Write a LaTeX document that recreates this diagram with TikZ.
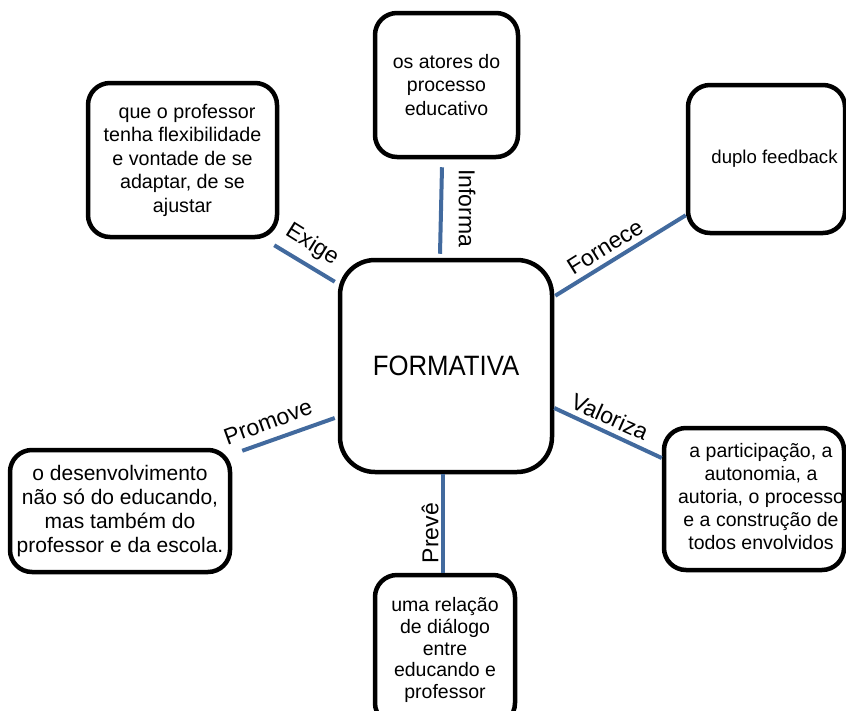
\documentclass[tikz,border=0pt]{standalone}
\usepackage{fontspec}
\setmainfont{Liberation Sans}
\newfontfamily\narrowsans[FakeStretch=0.92]{Liberation Sans}
\usetikzlibrary{calc}
\definecolor{linkblue}{RGB}{66,106,158}

\begin{document}
\begin{tikzpicture}[x=1pt,y=-1pt,
  box/.style={draw=black, line width=4.5pt, rounded corners=22pt, fill=white,
              align=center, inner sep=0pt},
  link/.style={draw=linkblue, line width=4pt},
  rel/.style={font=\fontsize{23}{26}\selectfont, inner sep=0pt},
  txt/.style={font=\fontsize{19.5}{23.5}\selectfont}]

\useasboundingbox (0,0) rectangle (846,710);
\clip (0,0) rectangle (846,710);

% central concept
\node[box, rounded corners=35pt, minimum width=212pt, minimum height=212pt,
      font=\narrowsans\fontsize{28}{32}\selectfont] (c) at (446,366) {FORMATIVA};

% surrounding concepts
\node[box, txt, minimum width=143pt, minimum height=144pt] (t) at (446.5,85)
  {os atores do\\processo\\educativo};
\node[box, txt, minimum width=189pt, minimum height=154pt,
      font=\fontsize{19.7}{23.5}\selectfont] (tl) at (182.5,160)
  {\hspace*{9pt}que o professor\\tenha flexibilidade\\e vontade de se\\adaptar, de se\\ajustar};
\node[box, txt, minimum width=157pt, minimum height=148pt,
      font=\fontsize{18.6}{22}\selectfont] (tr) at (766.5,159)
  {\hspace*{16pt}duplo feedback};
\node[box, txt, minimum width=180pt, minimum height=142pt,
      font=\fontsize{19.5}{22.8}\selectfont] (r) at (754,499)
  {\hspace*{14pt}\begin{tabular}{@{}c@{}}a participação, a\\autonomia, a\\autoria, o processo\\e a construção de\\todos envolvidos\end{tabular}};
\node[box, txt, minimum width=220pt, minimum height=122pt,
      font=\fontsize{21}{24}\selectfont] (bl) at (120,511)
  {o desenvolvimento\\não só do educando,\\mas também do\\professor e da escola.};
\node[box, txt, minimum width=140pt, minimum height=150pt,
      font=\fontsize{19.5}{21.6}\selectfont] (b) at (445,650)
  {uma relação\\de diálogo\\entre\\educando e\\professor};

% connectors
\draw[link] ($(t.south)+(-4.5,8)$) -- ($(c.north)+(-6,-4)$);
\draw[link] ($(tl.south east)+(-5,6)$) -- ($(c.north west)+(-3,24)$);
\draw[link] ($(c.north east)+(1,38)$) -- ($(tr.south west)+(0,-20)$);
\draw[link] ($(c.east)+(0,42)$) -- ($(r.west)+(0,-41)$);
\draw[link] ($(c.west)+(-3,52)$) -- ($(bl.north east)+(10,3)$);
\draw[link] ($(c.south)+(-3,0)$) -- ($(b.north)+(-2,0)$);

% relation labels
\node[rel, rotate=-90] (l-informa) at (467,208) {Informa};
\node[rel, rotate=-32] (l-exige) at (312,245) {Exige};
\node[rel, rotate=32] (l-fornece) at (605,247) {Fornece};
\node[rel, rotate=-24] (l-valoriza) at (610,417) {Valoriza};
\node[rel, rotate=20] (l-promove) at (268,422) {Promove};
\node[rel, rotate=90] (l-preve) at (430,533) {Prevê};
\end{tikzpicture}
\end{document}
